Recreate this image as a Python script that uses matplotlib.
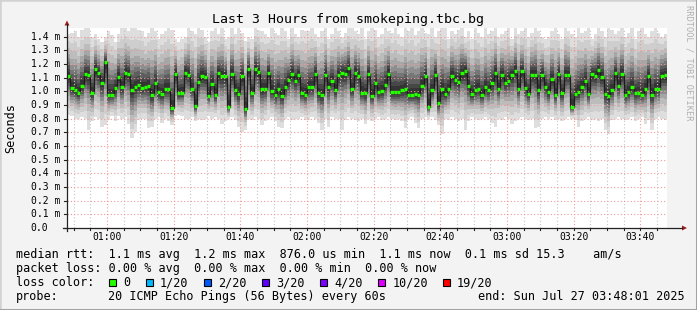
import numpy as np
import matplotlib
matplotlib.use("Agg")
import matplotlib.pyplot as plt
from matplotlib.patches import Polygon, Rectangle
from matplotlib.lines import Line2D
import matplotlib.transforms as mtransforms

# median rtt per minute (ms), 00:48 .. 03:48
median = [
    1.112, 1.024, 1.012, 0.988, 1.039, 1.124, 1.117, 0.990, 1.163, 1.132, 1.063, 1.212,
    0.973, 0.976, 1.022, 1.107, 1.029, 1.137, 1.127, 1.007, 1.034, 1.044, 1.027, 1.034,
    1.041, 0.971, 1.063, 0.993, 0.978, 1.015, 1.017, 0.880, 1.127, 0.985, 0.990, 1.137,
    1.122, 1.020, 0.893, 1.068, 1.115, 1.107, 0.968, 1.056, 0.973, 1.134, 1.115, 1.112,
    0.883, 1.129, 1.012, 0.980, 1.112, 0.873, 1.163, 0.990, 1.163, 1.139, 1.015, 1.020,
    1.137, 1.002, 0.973, 1.020, 0.968, 1.034, 1.080, 1.129, 1.078, 1.117, 0.985, 0.976,
    1.032, 1.030, 1.127, 0.985, 0.973, 1.120, 1.034, 1.078, 1.010, 1.117, 1.137, 1.129,
    1.171, 1.020, 1.137, 1.115, 0.990, 0.985, 1.127, 0.968, 1.061, 0.993, 1.005, 1.049,
    1.129, 0.995, 0.995, 0.995, 1.007, 1.020, 0.973, 0.973, 0.980, 0.976, 1.039, 1.112,
    0.888, 1.010, 1.122, 0.912, 1.015, 0.978, 1.020, 1.112, 1.085, 1.071, 1.134, 1.151,
    1.041, 0.978, 1.007, 1.020, 0.971, 1.029, 1.007, 1.059, 1.137, 1.020, 1.122, 1.063,
    1.078, 1.122, 1.151, 1.020, 1.146, 1.024, 0.983, 1.122, 1.122, 1.010, 1.122, 1.034,
    0.995, 1.088, 0.976, 1.124, 0.988, 1.122, 1.120, 0.888, 0.983, 0.998, 1.034, 1.078,
    0.980, 1.124, 1.115, 1.154, 1.107, 0.983, 0.966, 1.010, 1.132, 1.039, 1.127, 0.976,
    0.995, 1.032, 0.985, 0.990, 0.976, 1.020, 1.115, 0.976, 1.015, 1.020, 1.115, 1.119,
]

# fastest ping per minute (ms)
ping_min = [
    0.83, 0.82, 0.80, 0.80, 0.81, 0.80, 0.72, 0.78, 0.81, 0.80, 0.74, 0.75,
    0.79, 0.82, 0.78, 0.82, 0.80, 0.81, 0.76, 0.66, 0.70, 0.79, 0.80, 0.80,
    0.73, 0.74, 0.80, 0.81, 0.77, 0.80, 0.78, 0.75, 0.82, 0.83, 0.82, 0.80,
    0.80, 0.81, 0.78, 0.80, 0.79, 0.80, 0.82, 0.80, 0.81, 0.80, 0.76, 0.78,
    0.80, 0.81, 0.79, 0.74, 0.70, 0.72, 0.80, 0.79, 0.81, 0.80, 0.75, 0.78,
    0.80, 0.81, 0.78, 0.74, 0.73, 0.80, 0.81, 0.79, 0.80, 0.80, 0.81, 0.79,
    0.79, 0.81, 0.80, 0.77, 0.72, 0.80, 0.74, 0.81, 0.80, 0.80, 0.72, 0.79,
    0.81, 0.80, 0.79, 0.78, 0.80, 0.76, 0.80, 0.78, 0.80, 0.81, 0.79, 0.80,
    0.81, 0.80, 0.79, 0.80, 0.78, 0.73, 0.80, 0.81, 0.77, 0.73, 0.80, 0.81,
    0.80, 0.81, 0.79, 0.75, 0.69, 0.80, 0.79, 0.81, 0.80, 0.78, 0.80, 0.72,
    0.78, 0.81, 0.80, 0.79, 0.80, 0.81, 0.80, 0.77, 0.74, 0.80, 0.79, 0.81,
    0.80, 0.76, 0.78, 0.80, 0.81, 0.80, 0.79, 0.80, 0.73, 0.74, 0.80, 0.81,
    0.80, 0.81, 0.79, 0.80, 0.78, 0.80, 0.81, 0.80, 0.79, 0.74, 0.78, 0.80,
    0.81, 0.79, 0.80, 0.78, 0.80, 0.72, 0.69, 0.79, 0.80, 0.81, 0.80, 0.79,
    0.80, 0.81, 0.78, 0.80, 0.81, 0.76, 0.79, 0.72, 0.80, 0.81, 0.80, 0.79,
]

# slowest ping per minute (ms)
ping_max = [
    1.42, 1.43, 1.44, 1.40, 1.45, 1.46, 1.46, 1.40, 1.42, 1.38, 1.36, 1.40,
    1.44, 1.41, 1.36, 1.42, 1.46, 1.46, 1.44, 1.46, 1.46, 1.45, 1.44, 1.40,
    1.43, 1.46, 1.44, 1.38, 1.42, 1.44, 1.46, 1.45, 1.38, 1.36, 1.38, 1.40,
    1.46, 1.44, 1.42, 1.46, 1.45, 1.40, 1.36, 1.44, 1.46, 1.42, 1.46, 1.38,
    1.40, 1.46, 1.42, 1.46, 1.43, 1.37, 1.40, 1.38, 1.46, 1.45, 1.44, 1.42,
    1.40, 1.46, 1.43, 1.41, 1.46, 1.44, 1.38, 1.46, 1.42, 1.40, 1.45, 1.44,
    1.44, 1.46, 1.42, 1.40, 1.44, 1.46, 1.38, 1.42, 1.46, 1.44, 1.40, 1.43,
    1.46, 1.46, 1.44, 1.42, 1.46, 1.38, 1.44, 1.46, 1.45, 1.40, 1.42, 1.46,
    1.44, 1.43, 1.46, 1.42, 1.40, 1.46, 1.44, 1.46, 1.41, 1.44, 1.46, 1.43,
    1.42, 1.46, 1.40, 1.44, 1.46, 1.46, 1.38, 1.44, 1.42, 1.45, 1.46, 1.40,
    1.44, 1.38, 1.46, 1.43, 1.40, 1.46, 1.42, 1.44, 1.46, 1.40, 1.42, 1.44,
    1.46, 1.38, 1.46, 1.42, 1.44, 1.46, 1.40, 1.43, 1.46, 1.44, 1.40, 1.38,
    1.40, 1.44, 1.46, 1.42, 1.38, 1.46, 1.44, 1.42, 1.40, 1.46, 1.43, 1.44,
    1.46, 1.38, 1.42, 1.46, 1.44, 1.40, 1.46, 1.45, 1.42, 1.44, 1.46, 1.40,
    1.43, 1.46, 1.38, 1.44, 1.46, 1.42, 1.40, 1.44, 1.46, 1.43, 1.40, 1.42,
]

time_labels = ["01:00", "01:20", "01:40", "02:00", "02:20", "02:40", "03:00", "03:20", "03:40"]
first_label_min = 11.98          # 01:00 is ~12 minutes after 00:48:01
y_labels = ["0.0", "0.1 m", "0.2 m", "0.3 m", "0.4 m", "0.5 m", "0.6 m", "0.7 m",
            "0.8 m", "0.9 m", "1.0 m", "1.1 m", "1.2 m", "1.3 m", "1.4 m"]

loss_names = ["0", "1/20", "2/20", "3/20", "4/20", "10/20", "19/20"]
loss_colors = ["#26ff00", "#00b8ff", "#0059ff", "#5e00ff", "#7e00ff", "#dd00ff", "#ff0000"]

W, H = 697, 310
MONO = "DejaVu Sans Mono"
plt.rcParams["font.family"] = MONO

def fx(px):
    return px / W

def fy(py):
    return 1 - py / H

fig = plt.figure(figsize=(W / 100, H / 100), dpi=100, facecolor="#f3f3f3")

# 3d frame
fig.add_artist(Line2D([0, 0, 1], [0, 1, 1], transform=fig.transFigure, color="#d2d2d2", lw=1.8))
fig.add_artist(Line2D([fx(1), 1, 1], [0, 0, 1], transform=fig.transFigure, color="#a2a2a2", lw=2.2))

ax = fig.add_axes([fx(67), fy(228), 600 / W, 200 / H])
ax.set_facecolor("white")
for s in ax.spines.values():
    s.set_visible(False)
ax.set_xlim(0, 180)
ax.set_ylim(0, 1.463)
ax.set_xticks([])
ax.set_yticks([])

n = len(median)
med = np.array(median)
lo = np.array(ping_min)
hi = np.array(ping_max)
edges = np.arange(n + 1)

# smoke, outer (light) to inner (dark)
fracs = [1.0, 0.82, 0.66, 0.53, 0.42, 0.33, 0.25, 0.17, 0.10]
greys = ["#dedede", "#cecece", "#bcbcbc", "#a6a6a6", "#8e8e8e", "#767676", "#5e5e5e", "#474747", "#343434"]
for f, c in zip(fracs, greys):
    bottom = med - (med - lo) * f
    top = med + (hi - med) * f
    ax.fill_between(edges, np.append(bottom, bottom[-1]), np.append(top, top[-1]),
                    step="post", color=c, lw=0, zorder=1)

# grid
minor = np.arange(first_label_min - 10, 180, 5)
for m in minor:
    is_major = abs(((m - first_label_min) / 20) - round((m - first_label_min) / 20)) < 1e-6
    ax.axvline(m, color="#f09a9a" if is_major else "#c4c4c4", lw=0.8,
               ls=(0, (1, 2)), zorder=3)
for v in np.arange(1, 15) * 0.1:
    ax.axhline(v, color="#f09a9a", lw=0.8, ls=(0, (1, 2)), zorder=3)

# median line
ax.step(edges, np.append(med, med[-1]), where="post", color="#1c1c1c", lw=0.9, zorder=4)
ax.hlines(med, edges[:-1], edges[1:], color=loss_colors[0], lw=2.4, zorder=5,
          capstyle="butt")

# axes with arrows
fig.add_artist(Line2D([fx(67), fx(67)], [fy(231), fy(24)], transform=fig.transFigure,
                      color="#222222", lw=0.9))
fig.add_artist(Line2D([fx(63), fx(682)], [fy(228), fy(228)], transform=fig.transFigure,
                      color="#222222", lw=0.9))
fig.add_artist(Polygon([(fx(64.5), fy(25.5)), (fx(69.5), fy(25.5)), (fx(67), fy(20.5))],
                       closed=True, transform=fig.transFigure, color="#a01c1c", lw=0))
fig.add_artist(Polygon([(fx(682), fy(225.5)), (fx(682), fy(230.5)), (fx(687), fy(228))],
                       closed=True, transform=fig.transFigure, color="#a01c1c", lw=0))

# y labels and ticks
ty = mtransforms.blended_transform_factory(fig.transFigure, ax.transData)
for i, lab in enumerate(y_labels):
    v = i * 0.1
    fig.text(fx(30.5), v, lab, transform=ty, ha="left", va="center", fontsize=7)
    fig.add_artist(Line2D([fx(64), fx(67)], [v, v], transform=ty, color="#222222", lw=0.8))

# x labels and ticks
tx = mtransforms.blended_transform_factory(ax.transData, fig.transFigure)
for k, lab in enumerate(time_labels):
    m = first_label_min + 20 * k
    fig.text(m, fy(237.5), lab, transform=tx, ha="center", va="center", fontsize=7)
for m in minor:
    fig.add_artist(Line2D([m, m], [fy(228), fy(230)], transform=tx, color="#222222", lw=0.8))

# titles
fig.text(0.5, fy(20), "Last 3 Hours from smokeping.tbc.bg", ha="center", va="center", fontsize=9.5)
fig.text(fx(11), fy(128), "Seconds", rotation=90, ha="center", va="center", fontsize=8.5)
fig.text(fx(688.5), fy(5), "RRDTOOL / TOBI OETIKER", rotation=270, ha="center", va="top",
         fontsize=6.2, color="#b0b0b0")

# legend
fig.text(fx(16), fy(254.5),
         "median rtt:  1.1 ms avg  1.2 ms max  876.0 us min  1.1 ms now  0.1 ms sd 15.3    am/s",
         ha="left", va="center", fontsize=8.5)
fig.text(fx(16), fy(268.5),
         "packet loss: 0.00 % avg  0.00 % max  0.00 % min  0.00 % now",
         ha="left", va="center", fontsize=8.5)
fig.text(fx(16), fy(282.5), "loss color:", ha="left", va="center", fontsize=8.5)
box_x = [108.7, 145.7, 204, 261.7, 320, 378.3, 442.7]
for bx, name, col in zip(box_x, loss_names, loss_colors):
    fig.add_artist(Rectangle((fx(bx), fy(286)), 7 / W, 7 / H, transform=fig.transFigure,
                             facecolor=col, edgecolor="black", lw=0.8))
    fig.text(fx(bx + 14.3), fy(282.5), name, ha="left", va="center", fontsize=8.5)
fig.text(fx(16), fy(296.5), "probe:", ha="left", va="center", fontsize=8.5)
fig.text(fx(108), fy(296.5), "20 ICMP Echo Pings (56 Bytes) every 60s",
         ha="left", va="center", fontsize=8.5)
fig.text(fx(478), fy(296.5), "end: Sun Jul 27 03:48:01 2025", ha="left", va="center", fontsize=8.5)

fig.savefig("out.png", dpi=100, facecolor=fig.get_facecolor())
